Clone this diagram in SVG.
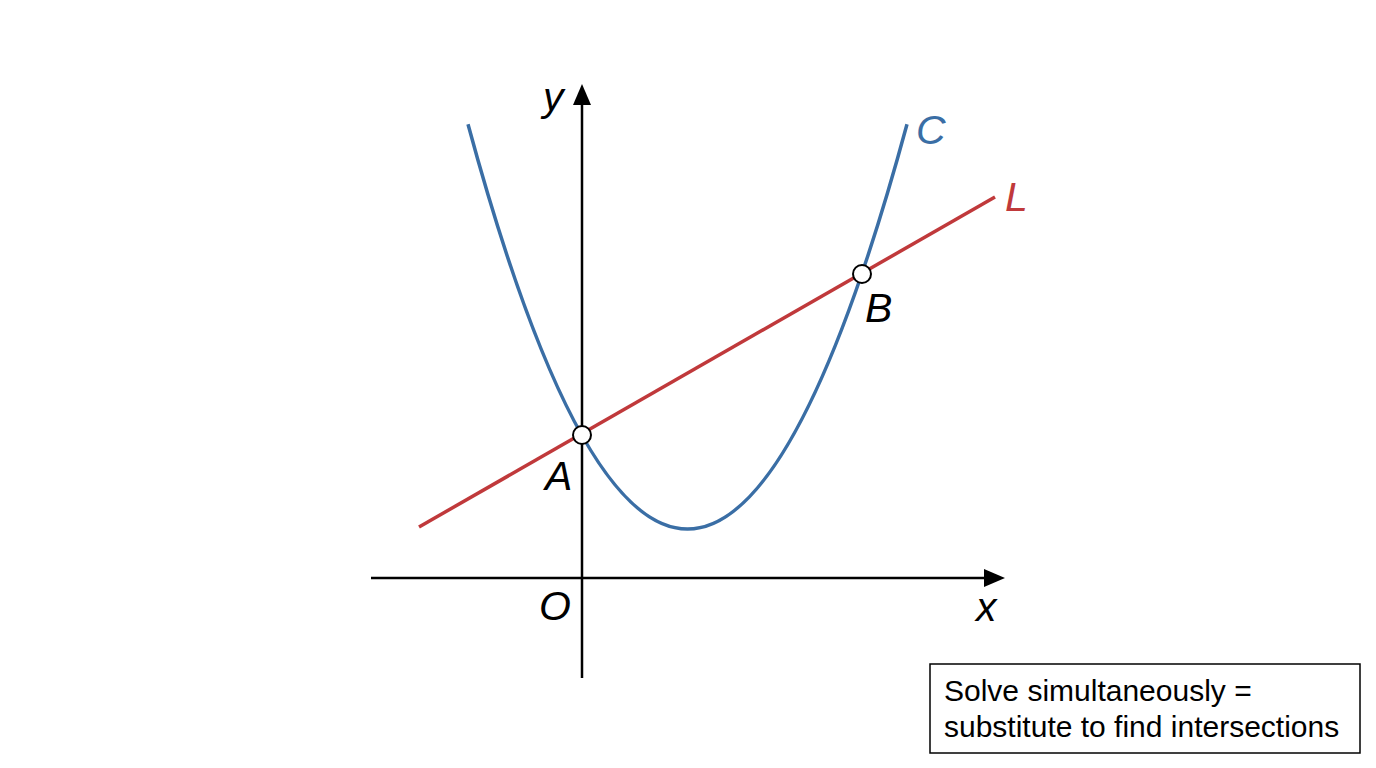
<svg xmlns="http://www.w3.org/2000/svg" width="1376" height="768" viewBox="0 0 1376 768">
<style>
.axis{stroke:#000;stroke-width:2.5;fill:none}
.lbl{font-family:"Liberation Sans",Arial,sans-serif;font-style:italic;font-size:41px}
.note{font-family:"Liberation Sans",Arial,sans-serif;font-size:30px;fill:#000}
.pt{fill:#fff;stroke:#000;stroke-width:2}
</style>
<rect width="1376" height="768" fill="#fff"/>
<g id="connectors">
<g id="axes">
<line class="axis" x1="371" y1="578" x2="990" y2="578"/>
<polygon points="1005,578 984,569 984,587" fill="#000"/>
<line class="axis" x1="582" y1="678" x2="582" y2="100"/>
<polygon points="582,84 573,105 591,105" fill="#000"/>
</g>
<path id="curveC" d="M468,124.3 Q687.5,933.8 907,124.3" fill="none" stroke="#3a6ea5" stroke-width="3.5"/>
<line id="lineL" x1="419" y1="527" x2="995" y2="197" stroke="#c0393b" stroke-width="3.5"/>
</g>
<g id="pointA"><circle class="pt" cx="582" cy="435" r="9"/><text class="lbl" x="545" y="490">A</text></g>
<g id="pointB"><circle class="pt" cx="862" cy="274" r="9"/><text class="lbl" x="865" y="322">B</text></g>
<g id="labels">
<text class="lbl" x="543" y="111">y</text>
<text class="lbl" x="976" y="621">x</text>
<text class="lbl" x="539" y="620">O</text>
<text class="lbl" x="916" y="144" fill="#3a6ea5">C</text>
<text class="lbl" x="1005" y="211" fill="#c0393b">L</text>
</g>
<g id="note">
<rect x="930" y="664" width="430" height="89" fill="#fff" stroke="#000" stroke-width="1.5"/>
<text class="note" x="944" y="701">Solve simultaneously =</text>
<text class="note" x="944" y="737">substitute to find intersections</text>
</g>
</svg>
